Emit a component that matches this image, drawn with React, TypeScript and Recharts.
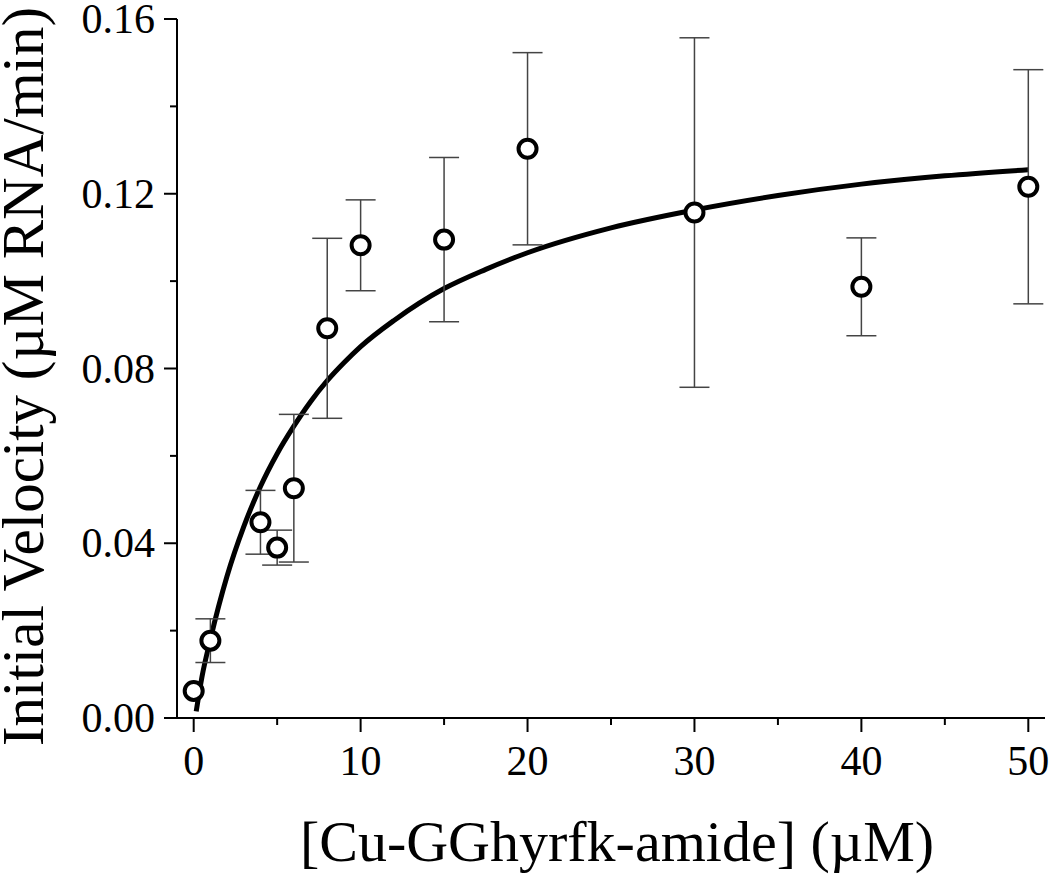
import React from "react";
import { ComposedChart, ErrorBar, Label, Line, Scatter, XAxis, YAxis } from "recharts";

const concentrations = [0, 1, 4, 5, 6, 8, 10, 15, 20, 30, 40, 50];
const velocities = [0.0062, 0.0177, 0.0448, 0.039, 0.0526, 0.0892, 0.1082, 0.1095, 0.1303, 0.1157, 0.0987, 0.1216];
const errors = [0, 0.005, 0.0073, 0.004, 0.0169, 0.0206, 0.0104, 0.0188, 0.022, 0.04, 0.0112, 0.0268];

// fitted curve
const fitX = [0.15, 0.5, 1, 2, 3, 4, 5, 6, 7, 8, 9, 10, 12, 15, 17.5, 20, 25, 30, 35, 40, 45, 50];
const fitY = [0.0015, 0.0095, 0.018, 0.0325, 0.0438, 0.053, 0.0605, 0.0668, 0.0724, 0.0772, 0.0813, 0.085, 0.091, 0.0983, 0.1027, 0.1065, 0.1122, 0.1163, 0.1196, 0.1222, 0.1241, 0.1255];

const xTicks = [0, 5, 10, 15, 20, 25, 30, 35, 40, 45, 50];
const yTicks = [0, 0.02, 0.04, 0.06, 0.08, 0.1, 0.12, 0.14, 0.16];

const FONT = "'Liberation Serif', 'Times New Roman', serif";

const points = concentrations.map((c, i) => ({ x: c, y: velocities[i], err: errors[i] }));
const fit = fitX.map((x, i) => ({ x, y: fitY[i] }));

function XTick({ x, y, payload }: any) {
  const major = payload.value % 10 === 0;
  return (
    <g>
      <line x1={x} x2={x} y1={y} y2={y + (major ? 14 : 7)} stroke="#000" strokeWidth={2} />
      {major && (
        <text x={x} y={y + 57} textAnchor="middle" fontSize={42} fontFamily={FONT} fill="#000">
          {payload.value}
        </text>
      )}
    </g>
  );
}

function YTick({ x, y, payload }: any) {
  const major = Math.round(payload.value * 100) % 4 === 0;
  return (
    <g>
      <line x1={x} x2={x - (major ? 13 : 7)} y1={y} y2={y} stroke="#000" strokeWidth={2} />
      {major && (
        <text x={x - 22} y={y + 14} textAnchor="end" fontSize={42} fontFamily={FONT} fill="#000">
          {payload.value.toFixed(2)}
        </text>
      )}
    </g>
  );
}

function Ring({ cx, cy }: any) {
  return <circle cx={cx} cy={cy} r={9} fill="#fff" stroke="#000" strokeWidth={4} />;
}

export default function App() {
  return (
    <div style={{ position: "absolute", left: 0, top: 0, background: "#fff" }}>
      <ComposedChart width={1050} height={875} margin={{ top: 19, right: 5, bottom: 0, left: 0 }}>
        <XAxis
          type="number"
          dataKey="x"
          domain={[-1, 51]}
          ticks={xTicks}
          tick={<XTick />}
          tickLine={false}
          tickSize={0}
          tickMargin={0}
          axisLine={{ stroke: "#000", strokeWidth: 2 }}
          height={157}
          interval={0}
        >
          <Label
            content={({ viewBox }: any) => (
              <text
                x={viewBox.x + viewBox.width / 2 + 6}
                y={viewBox.y + 143}
                textAnchor="middle"
                fontSize={58}
                fontFamily={FONT}
                fill="#000"
              >
                [Cu-GGhyrfk-amide] (µM)
              </text>
            )}
          />
        </XAxis>
        <YAxis
          type="number"
          domain={[0, 0.16]}
          ticks={yTicks}
          tick={<YTick />}
          tickLine={false}
          tickSize={0}
          tickMargin={0}
          axisLine={{ stroke: "#000", strokeWidth: 2 }}
          width={177}
          interval={0}
        >
          <Label
            content={({ viewBox }: any) => (
              <text
                transform={`translate(43, ${viewBox.y + viewBox.height / 2 + 8}) rotate(-90)`}
                textAnchor="middle"
                fontSize={59}
                fontFamily={FONT}
                fill="#000"
              >
                Initial Velocity (µM RNA/min)
              </text>
            )}
          />
        </YAxis>
        <Line
          data={fit}
          dataKey="y"
          type="monotone"
          stroke="#000"
          strokeWidth={5}
          dot={false}
          activeDot={false}
          isAnimationActive={false}
        />
        <Scatter data={points} dataKey="y" shape={<Ring />} isAnimationActive={false}>
          <ErrorBar dataKey="err" direction="y" width={15} stroke="#444" strokeWidth={1.5} />
        </Scatter>
      </ComposedChart>
    </div>
  );
}
